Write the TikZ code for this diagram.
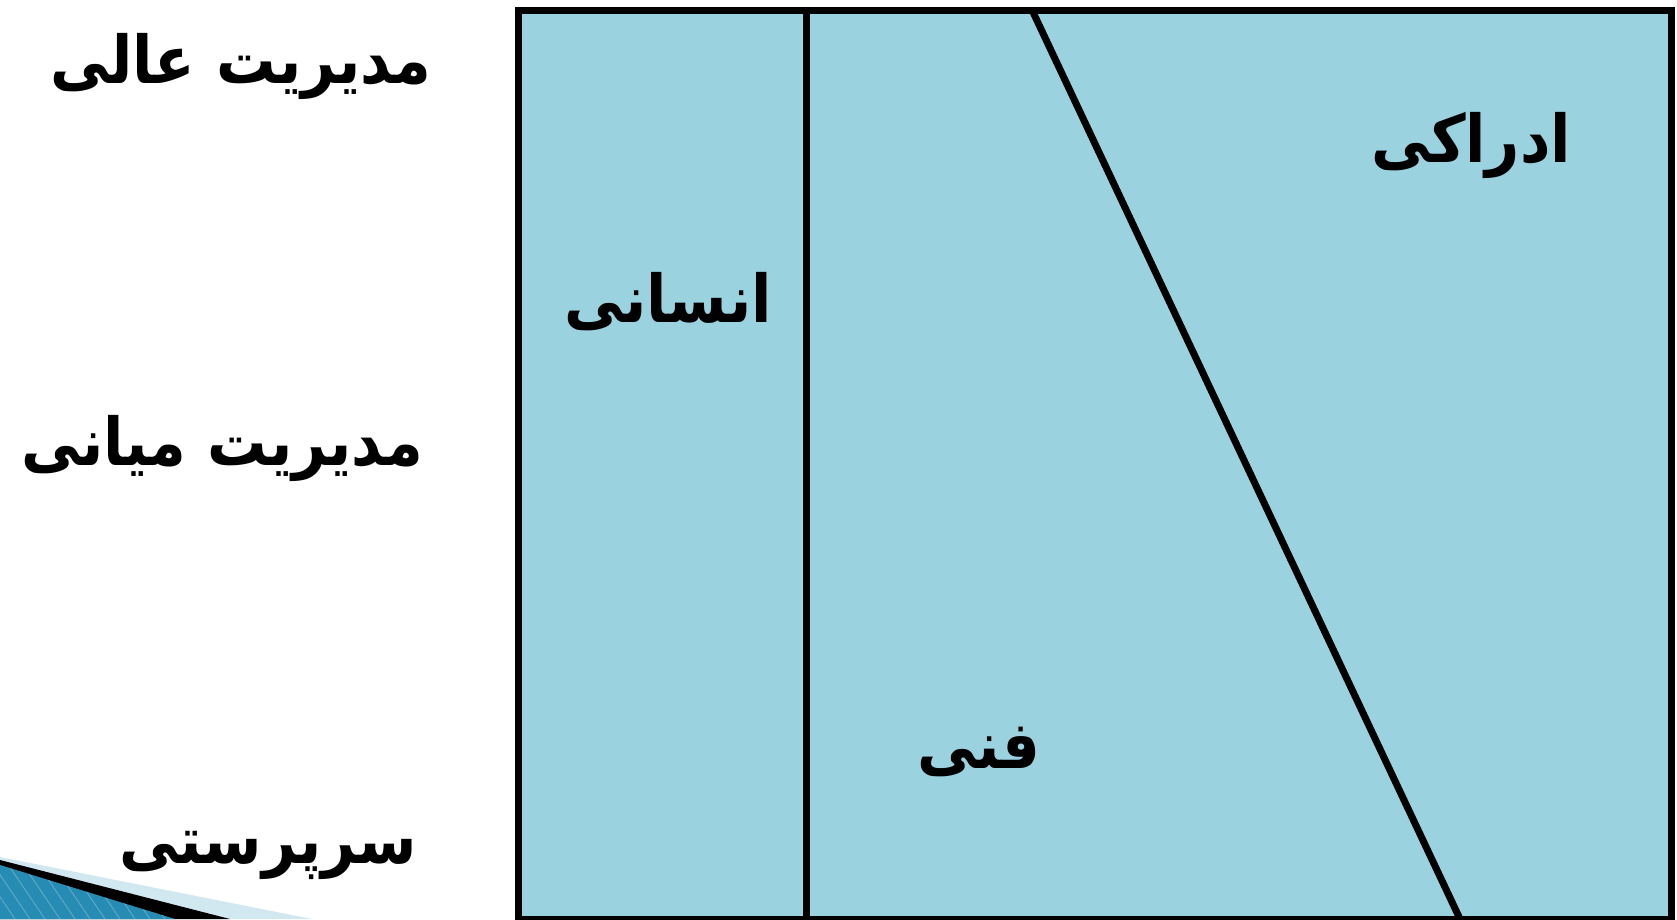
\documentclass[tikz,border=0pt]{standalone}
\usepackage{fontspec}
\newfontfamily\arabicfont[Script=Arabic]{DejaVu Sans Condensed}
\TeXXeTstate=1
\definecolor{panel}{RGB}{155,210,224}
\definecolor{wedgeblue}{RGB}{38,140,180}
\definecolor{wedgelight}{RGB}{210,232,240}
\begin{document}
\begin{tikzpicture}[x=1pt,y=-1pt,
  lbl/.style={anchor=base,inner sep=0pt,font=\arabicfont\bfseries\fontsize{66}{72}\selectfont},
  border/.style={line width=7pt}]
\useasboundingbox (0,0) rectangle (1677,919);
\fill[white] (0,0) rectangle (1677,919);
% decoration bottom-left
\fill[wedgelight] (0,857) -- (312,919) -- (0,919) -- cycle;
\fill[black] (0,860) -- (230,919) -- (0,919) -- cycle;
\fill[wedgeblue] (0,865) -- (175,919) -- (0,919) -- cycle;
\begin{scope}
\clip (0,865) -- (175,919) -- (0,919) -- cycle;
\foreach \i in {-60,-45,...,200} {
  \draw[white,opacity=0.25,line width=1pt] (\i,919) -- (\i-40,860);
}
\end{scope}
% panel
\coordinate (tl) at (518,10);
\coordinate (br) at (1671,919);
\fill[panel] (tl) rectangle (br);
\coordinate (vtop) at (806,10);
\coordinate (vbot) at (806,919);
\coordinate (dtop) at (1032,10);
\coordinate (dbot) at (1460,919);
\draw[border] (vtop) -- (vbot);
\draw[border] (dtop) -- (dbot);
\draw[border] (tl) rectangle (br);
% labels
\node[lbl] (top) at (241,83) {\beginR مدیریت عالی\endR};
\node[lbl] (mid) at (222,465) {\beginR مدیریت میانی\endR};
\node[lbl] (sup) at (268,863) {\beginR سرپرستی\endR};
\node[lbl] (ens) at (668,322) {\beginR انسانی\endR};
\node[lbl] (edr) at (1471,162) {\beginR ادراکی\endR};
\node[lbl] (fan) at (979,768) {\beginR فنی\endR};
\end{tikzpicture}
\end{document}
